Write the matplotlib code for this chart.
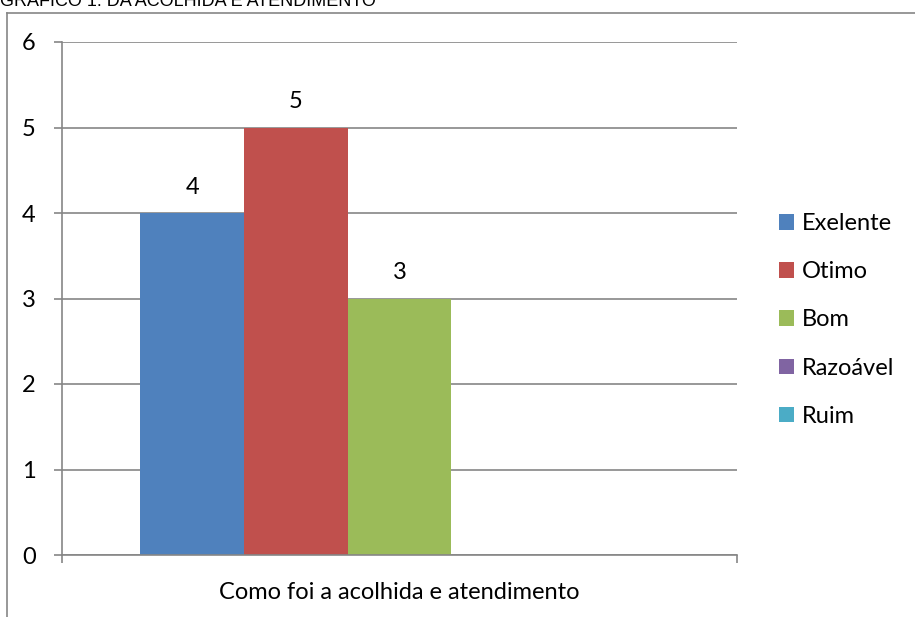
import matplotlib
matplotlib.use("Agg")
import matplotlib.pyplot as plt
from matplotlib.lines import Line2D
from matplotlib.patches import Patch

plt.rcParams['font.family'] = ['Lato', 'DejaVu Sans']

title = "GRÁFICO 1: DA ACOLHIDA E ATENDIMENTO"
category = "Como foi a acolhida e atendimento"
series = ["Exelente", "Otimo", "Bom", "Razoável", "Ruim"]
values = [4, 5, 3, 0, 0]
colors = ["#4F81BD", "#C0504D", "#9BBB59", "#8064A2", "#4BACC6"]
yticks = [0, 1, 2, 3, 4, 5, 6]

W, H = 915, 617
FS = 17
fig = plt.figure(figsize=(W / 100, H / 100), dpi=100)
ax = fig.add_axes([62 / W, 1 - 555 / H, (737 - 62) / W, (555 - 42) / H])

grey = "#868686"
bw = 0.1535
n = len(series)
for i, (s, v, c) in enumerate(zip(series, values, colors)):
    x = (i - (n - 1) / 2) * bw
    ax.bar(x, v, width=bw, color=c, zorder=3, label=s)
    if v > 0:
        ax.text(x, v + 0.18, str(v), ha="center", va="bottom", fontsize=FS, zorder=4)

ax.set_xlim(-0.5, 0.5)
ax.set_ylim(0, 6)
ax.set_yticks(yticks)
ax.set_yticklabels([str(t) for t in yticks], fontsize=FS)
ax.yaxis.grid(True, color=grey, linewidth=1.2, zorder=0)
ax.set_xticks([-0.5, 0.5])
ax.set_xticklabels(["", ""])
ax.tick_params(axis="both", direction="out", length=6, color=grey, width=1.2)
ax.tick_params(axis="y", pad=13)
for side in ["top", "right"]:
    ax.spines[side].set_visible(False)
for side in ["left", "bottom"]:
    ax.spines[side].set_color(grey)
    ax.spines[side].set_linewidth(1.2)
ax.spines["bottom"].set_zorder(5)
ax.text(0, -0.31, category, transform=ax.transData, ha="center", va="top", fontsize=FS)

# legend
handles = [Patch(facecolor=c, edgecolor="none") for c in colors]
leg = fig.legend(handles, series, loc="center left", bbox_to_anchor=(779 / W, 1 - 320 / H),
                 frameon=False, fontsize=FS, handlelength=0.64, handleheight=0.64,
                 handletextpad=0.34, labelspacing=1.15, borderpad=0, borderaxespad=0)

# outer frame lines (chart area border)
fig.add_artist(Line2D([7 / W, 7 / W], [0, 1 - 13 / H], color=grey, linewidth=1.2))
fig.add_artist(Line2D([7 / W, 1], [1 - 13 / H, 1 - 13 / H], color=grey, linewidth=1.2))

# title (cropped at top, as in the reference)
fig.text(0 / W, 1 - 5.5 / H, title, ha="left", va="baseline", fontsize=13,
         family=["Liberation Sans", "DejaVu Sans"])

fig.savefig("out.png", dpi=100)
